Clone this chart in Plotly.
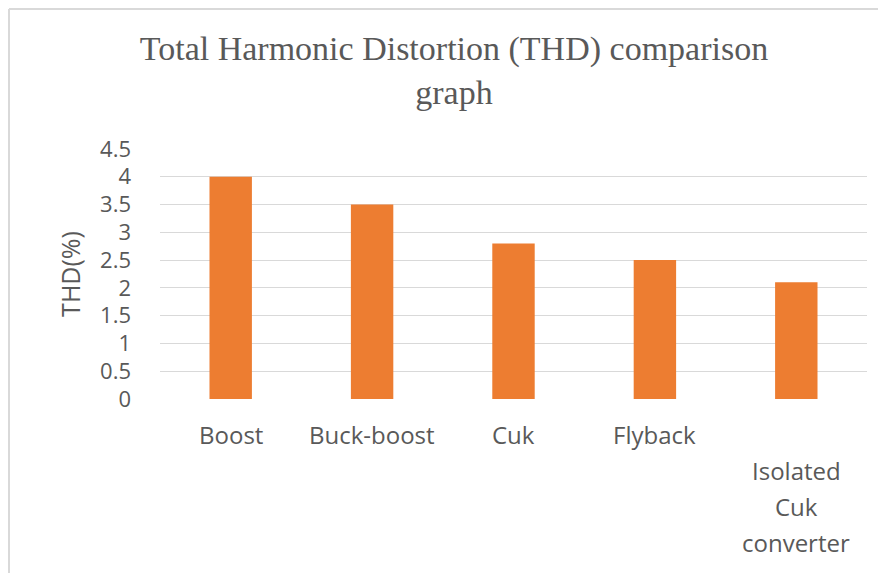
import plotly.graph_objects as go

categories = ["Boost", "Buck-boost", "Cuk", "Flyback", "Isolated Cuk converter"]
label_lines = [["Boost"], ["Buck-boost"], ["Cuk"], ["Flyback"], ["", "Isolated", "Cuk", "converter"]]
thd_values = [4.0, 3.5, 2.8, 2.5, 2.1]
y_ticks = [0, 0.5, 1, 1.5, 2, 2.5, 3, 3.5, 4, 4.5]
y_ticktext = ["0", "0.5", "1", "1.5", "2", "2.5", "3", "3.5", "4", "4.5"]

# page body has an 8px margin; figure sized to fit the window
OFF = 8
W, H = 886 - OFF, 573 - OFF
L, T = 160 - OFF, 149 - OFF
R = W - (867 - OFF)
B = H - (399 - OFF)
pw, ph = W - L - R, H - T - B

fig = go.Figure(go.Bar(x=categories, y=thd_values, marker_color="#ED7D31",
                       marker_line_width=0))

label_font = dict(family="Open Sans", size=24, color="#595959")
annotations = []
for cat, lines in zip(categories, label_lines):
    for i, line in enumerate(lines):
        if not line:
            continue
        annotations.append(dict(x=cat, xref="x", y=0, yref="paper", yanchor="middle",
                                yshift=-(35 + 36 * i), text=line, showarrow=False,
                                font=label_font))

px_x = lambda p: (p - L) / pw
px_y = lambda p: (H - B - p) / ph
border = dict(color="#D9D9D9", width=2)

fig.update_layout(
    width=W, height=H,
    margin=dict(l=L, r=R, t=T, b=B),
    paper_bgcolor="white", plot_bgcolor="white",
    title=dict(text="Total Harmonic Distortion (THD) comparison<br>graph",
               x=(454 - OFF - L) / pw, xref="paper", xanchor="center",
               y=1 - (60 - OFF) / H, yanchor="top",
               font=dict(family="Liberation Serif", size=34, color="#595959")),
    bargap=0.70,
    showlegend=False,
    annotations=annotations,
    shapes=[
        dict(type="line", xref="paper", yref="paper",
             x0=px_x(1), x1=px_x(1), y0=px_y(1), y1=px_y(H + 5), line=border, layer="below"),
        dict(type="line", xref="paper", yref="paper",
             x0=px_x(1), x1=px_x(W + 5), y0=px_y(1), y1=px_y(1), line=border, layer="below"),
    ],
    xaxis=dict(showticklabels=False, showgrid=False, zeroline=False, showline=False,
               ticks=""),
    yaxis=dict(range=[0, 4.5], tickvals=y_ticks, ticktext=y_ticktext,
               showgrid=True, gridcolor="#D9D9D9", gridwidth=1, zeroline=False,
               showline=False, ticks="", ticklabelstandoff=28,
               tickfont=dict(family="Open Sans", size=22, color="#595959"),
               title=dict(text="THD(%)", standoff=12,
                          font=dict(family="Open Sans", size=25, color="#595959"))),
)

fig.write_html("out.html")
